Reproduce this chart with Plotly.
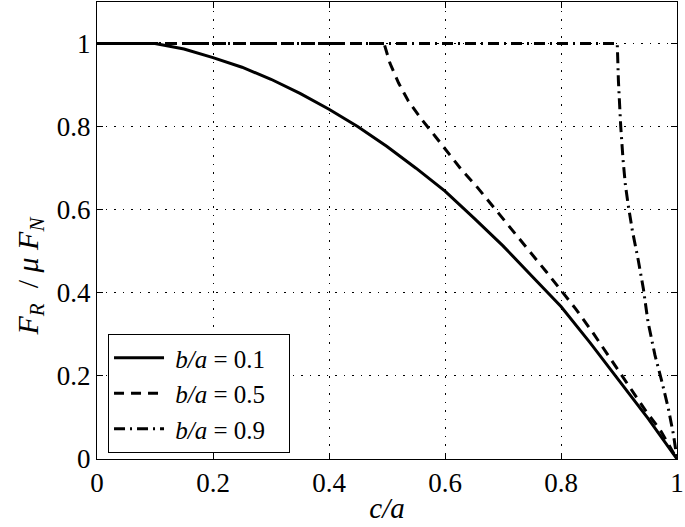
import plotly.graph_objects as go

# b/a = 0.1 (solid)
c_01 = [0, 0.1, 0.15, 0.2, 0.25, 0.3, 0.35, 0.4, 0.45, 0.5, 0.55, 0.6, 0.65, 0.7, 0.75, 0.8, 0.85, 0.9, 0.95, 1.0]
f_01 = [1, 1, 0.987, 0.966, 0.943, 0.914, 0.88, 0.842, 0.80, 0.752, 0.70, 0.645, 0.58, 0.513, 0.44, 0.367, 0.28, 0.19, 0.098, 0]

# b/a = 0.5 (dashed)
c_05 = [0, 0.495, 0.505, 0.52, 0.537, 0.56, 0.583, 0.606, 0.628, 0.654, 0.68, 0.708, 0.74,
        0.775, 0.8, 0.825, 0.854, 0.877, 0.901, 0.924, 0.947, 0.971, 1.0]
f_05 = [1, 1, 0.953, 0.905, 0.861, 0.817, 0.777, 0.737, 0.697, 0.657, 0.613, 0.565, 0.509,
        0.45, 0.406, 0.362, 0.306, 0.258, 0.21, 0.162, 0.114, 0.07, 0]

# b/a = 0.9 (dash-dot)
c_09 = [0, 0.897, 0.899, 0.901, 0.903, 0.907, 0.911, 0.916, 0.923, 0.933, 0.942, 0.95, 0.962, 0.974, 0.985, 0.994, 1.0]
f_09 = [1, 1, 0.91, 0.85, 0.8, 0.72, 0.66, 0.61, 0.55, 0.48, 0.41, 0.33, 0.25, 0.186, 0.122, 0.058, 0]

ticks = [0, 0.2, 0.4, 0.6, 0.8, 1]
tick_text = ["0", "0.2", "0.4", "0.6", "0.8", "1"]

names = ["<i>b/a</i> = 0.1", "<i>b/a</i> = 0.5", "<i>b/a</i> = 0.9"]
dashes = ["solid", "10px,7px", "11px,5px,2px,5px"]

serif = "Liberation Serif, Times New Roman, serif"

fig = go.Figure()
for xs, ys, nm, ds in zip([c_01, c_05, c_09], [f_01, f_05, f_09], names, dashes):
    fig.add_trace(go.Scatter(x=xs, y=ys, mode="lines", name="&nbsp;" + nm + "&nbsp;&nbsp;&nbsp;",
                             line=dict(color="black", width=3, dash=ds)))

axis_style = dict(showline=True, mirror="ticks", linecolor="black", linewidth=1,
                  ticks="inside", ticklen=6, tickcolor="black",
                  showgrid=True, gridcolor="black", gridwidth=1, griddash="1.5px,7px",
                  zeroline=False, tickvals=ticks, ticktext=tick_text,
                  ticklabeloverflow="allow",
                  tickfont=dict(family=serif, size=27, color="black"))

fig.update_xaxes(range=[0, 1], title=dict(text="<i>c/a</i>", standoff=0,
                 font=dict(family=serif, size=29, color="black")), **axis_style)
fig.update_yaxes(range=[0, 1.1], **axis_style)

# y title as annotation so it can sit where the original has it
fig.add_annotation(text="<i>F</i><sub><i>R</i></sub>&nbsp;&nbsp;/&nbsp;<i>μ</i>&nbsp;<i>F</i><sub><i>N</i></sub>",
                   xref="paper", yref="paper", x=-0.115, y=0.40, textangle=-90,
                   showarrow=False, xanchor="center", yanchor="middle",
                   font=dict(family=serif, size=30, color="black"))

fig.update_layout(
    width=685, height=527,
    margin=dict(l=97, r=5, t=1, b=68),
    font=dict(family=serif, color="black"),
    plot_bgcolor="white", paper_bgcolor="white",
    legend=dict(x=0.019, y=0.013, xanchor="left", yanchor="bottom",
                bgcolor="white", bordercolor="black", borderwidth=1,
                itemwidth=50, tracegroupgap=0,
                font=dict(family=serif, size=25, color="black")),
    showlegend=True,
)

fig.write_html("out.html", config={"displayModeBar": False},
               post_script="document.body.style.margin='0';")
